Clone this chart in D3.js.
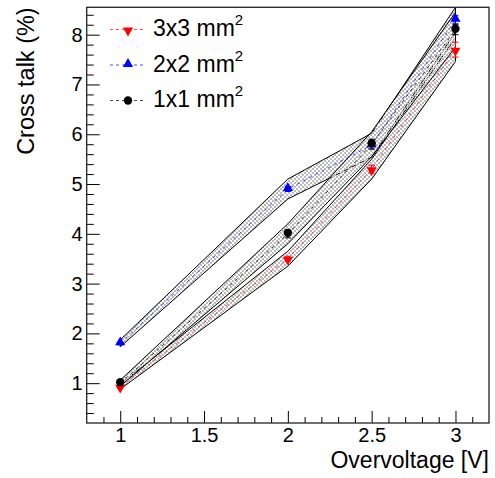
<!DOCTYPE html>
<html>
<head>
<meta charset="utf-8">
<script src="https://cdn.jsdelivr.net/npm/d3@7"></script>
<style>
  body { margin: 0; background: #fff; }
  svg { font-family: "Liberation Sans", Arial, sans-serif; }
</style>
</head>
<body>
<svg id="chart"></svg>
<script>
// data
const overvoltage = [1, 2, 2.5, 3];
const seriesNames = ['3x3 mm', '2x2 mm', '1x1 mm'];
const seriesColors = ['#ff0000', '#0000ff', '#000000'];
const crosstalk3x3 = [0.93, 3.5, 5.3, 7.7];
const crosstalk2x2 = [1.8, 4.9, 5.78, 8.3];
const crosstalk1x1 = [1.0, 4.0, 5.8, 8.1];
const band3x3 = [0.05, 0.15, 0.2, 0.24];   // systematic band half-width
const band2x2 = [0.07, 0.2, 0.24, 0.25];
const band1x1 = [0.06, 0.2, 0.25, 0.35];
const err3x3 = [0.03, 0.05, 0.08, 0.15];    // stat error bars on points
const err2x2 = [0.03, 0.05, 0.06, 0.08];
const err1x1 = [0.04, 0.08, 0.1, 0.1];
const xTicks = [1, 1.5, 2, 2.5, 3];
const yTicks = [1, 2, 3, 4, 5, 6, 7, 8];

const W = 495, H = 478;
const margin = { top: 7.3, right: 6, bottom: 55, left: 86.7 };

const svg = d3.select('#chart').attr('width', W).attr('height', H);

const x = d3.scaleLinear().domain([0.8, 3.2]).range([margin.left, W - margin.right]);
const y = d3.scaleLinear().domain([0.2, 8.55]).range([H - margin.bottom, margin.top]);

// checker pattern, gaps left transparent like ROOT fill styles
const defs = svg.append('defs');
const pat = defs.append('pattern')
  .attr('id', 'checker')
  .attr('patternUnits', 'userSpaceOnUse')
  .attr('width', 4).attr('height', 4);
pat.append('rect').attr('x', 0).attr('y', 0).attr('width', 2).attr('height', 2).attr('fill', '#bcbcbc');
pat.append('rect').attr('x', 2).attr('y', 2).attr('width', 2).attr('height', 2).attr('fill', '#bcbcbc');

defs.append('clipPath').attr('id', 'frameClip')
  .append('rect')
  .attr('x', margin.left).attr('y', margin.top)
  .attr('width', x.range()[1] - margin.left)
  .attr('height', y.range()[0] - margin.top);

const series = [
  { name: seriesNames[0], color: seriesColors[0], vals: crosstalk3x3, band: band3x3, err: err3x3, marker: d3.symbolTriangle, flip: true },
  { name: seriesNames[1], color: seriesColors[1], vals: crosstalk2x2, band: band2x2, err: err2x2, marker: d3.symbolTriangle, flip: false },
  { name: seriesNames[2], color: seriesColors[2], vals: crosstalk1x1, band: band1x1, err: err1x1, marker: d3.symbolCircle, flip: false }
];

const plot = svg.append('g').attr('clip-path', 'url(#frameClip)');

const area = d3.area()
  .x(d => x(d.x))
  .y0(d => y(d.v - d.b))
  .y1(d => y(d.v + d.b));

const line = d3.line().x(d => x(d.x)).y(d => y(d.v));

// bands first
series.forEach(s => {
  const pts = overvoltage.map((xv, i) => ({ x: xv, v: s.vals[i], b: s.band[i] }));
  plot.append('path')
    .datum(pts)
    .attr('d', area)
    .attr('fill', 'url(#checker)')
    .attr('stroke', '#000')
    .attr('stroke-width', 1);
});

// dashed lines, error bars, markers
series.forEach(s => {
  const pts = overvoltage.map((xv, i) => ({ x: xv, v: s.vals[i], e: s.err[i] }));
  plot.append('path')
    .datum(pts)
    .attr('d', line)
    .attr('fill', 'none')
    .attr('stroke', s.color)
    .attr('stroke-opacity', s.color === '#000000' ? 0.8 : 0.7)
    .attr('stroke-width', 1)
    .attr('stroke-dasharray', '3,4');

  plot.selectAll(null)
    .data(pts)
    .enter().append('path')
    .attr('d', d => `M${x(d.x)},${y(d.v - d.e)}V${y(d.v + d.e)}M${x(d.x) - 3},${y(d.v - d.e)}h6M${x(d.x) - 3},${y(d.v + d.e)}h6`)
    .attr('stroke', s.color)
    .attr('stroke-width', 1)
    .attr('fill', 'none');

  plot.selectAll(null)
    .data(pts)
    .enter().append('path')
    .attr('d', d3.symbol().type(s.marker).size(s.marker === d3.symbolCircle ? 55 : 45))
    .attr('transform', d => `translate(${x(d.x)},${y(d.v) + (s.flip ? 1 : -1)}) rotate(${s.flip ? 180 : 0})`)
    .attr('fill', s.color);
});

// axes
const yMinor = d3.range(0.4, 8.55, 0.2).filter(v => Math.abs(v - Math.round(v)) > 1e-6);
const xMinor = d3.range(0.9, 3.2, 0.1).filter(v => Math.abs(v * 2 - Math.round(v * 2)) > 1e-6);

svg.append('g')
  .attr('transform', `translate(${margin.left},0)`)
  .call(d3.axisLeft(y).tickValues(yTicks).tickFormat(d3.format('d')).tickSizeInner(-13).tickSizeOuter(0).tickPadding(4));
svg.append('g')
  .attr('transform', `translate(${margin.left},0)`)
  .call(d3.axisLeft(y).tickValues(yMinor).tickFormat('').tickSizeInner(-7).tickSizeOuter(0));

svg.append('g')
  .attr('transform', `translate(0,${y.range()[0]})`)
  .call(d3.axisBottom(x).tickValues(xTicks).tickFormat(d3.format('')).tickSizeInner(-12).tickSizeOuter(0).tickPadding(4.5));
svg.append('g')
  .attr('transform', `translate(0,${y.range()[0]})`)
  .call(d3.axisBottom(x).tickValues(xMinor).tickFormat('').tickSizeInner(-6).tickSizeOuter(0));

svg.selectAll('.domain').remove();
svg.selectAll('.tick line').attr('stroke', '#000');
svg.selectAll('.tick text').attr('font-size', 20).attr('fill', '#000').attr('font-family', '"Liberation Sans", Arial, sans-serif');

// frame
svg.append('rect')
  .attr('x', margin.left).attr('y', margin.top)
  .attr('width', x.range()[1] - margin.left)
  .attr('height', y.range()[0] - margin.top)
  .attr('fill', 'none')
  .attr('stroke', '#222')
  .attr('stroke-width', 1.3);

// axis titles
svg.append('text')
  .attr('x', x.range()[1])
  .attr('y', 467.5)
  .attr('text-anchor', 'end')
  .attr('font-size', 23)
  .text('Overvoltage [V]');

svg.append('text')
  .attr('transform', `translate(33.5,${margin.top}) rotate(-90)`)
  .attr('text-anchor', 'end')
  .attr('font-size', 23.5)
  .text('Cross talk (%)');

// legend
const legend = svg.append('g');
series.forEach((s, i) => {
  const ly = 29.5 + i * 35.5;
  legend.append('line')
    .attr('x1', 110).attr('x2', 144).attr('y1', ly).attr('y2', ly)
    .attr('stroke', s.color).attr('stroke-opacity', 0.7)
    .attr('stroke-dasharray', '3,3');
  legend.append('path')
    .attr('d', d3.symbol().type(s.marker).size(s.marker === d3.symbolCircle ? 55 : 45))
    .attr('transform', `translate(128,${ly + (s.flip ? 1 : -1) * (s.marker === d3.symbolCircle ? 0 : 1)}) rotate(${s.flip ? 180 : 0})`)
    .attr('fill', s.color);
  const t = legend.append('text')
    .attr('x', 153).attr('y', ly + 6.5)
    .attr('font-size', 23);
  t.append('tspan').text(s.name);
  t.append('tspan').attr('font-size', 15).attr('dy', -11).text('2');
});
</script>
</body>
</html>
